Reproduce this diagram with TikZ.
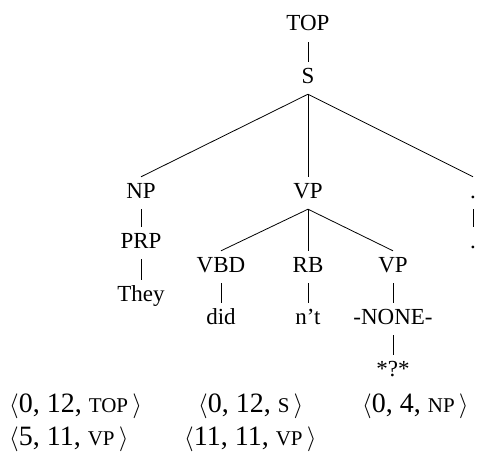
\documentclass[tikz,border=0pt]{standalone}
\usepackage{fontspec}
\setmainfont{Liberation Serif}
\usepackage{tikz}

\newcommand{\spancat}[1]{{\fontsize{21}{24}\selectfont #1}}

\begin{document}
\begin{tikzpicture}[x=1pt,y=-1pt,
        tag/.style={font=\fontsize{23}{27}\selectfont,inner xsep=1pt,inner ysep=6pt,
            text height=15pt,text depth=5pt,anchor=base},
        span/.style={font=\fontsize{28}{33}\selectfont,inner sep=0pt,anchor=base west},
        branch/.style={line width=0.8pt}]
        \useasboundingbox (0,0) rectangle (479,452);

        % Tree nodes
        \node [tag] (top) at (308,31) {TOP};
        \node [tag] (s) at (308,83) {S};
        \node [tag] (np) at (141,198) {NP};
        \node [tag] (vp) at (308,198) {VP};
        \node [tag] (punct) at (473,198) {.};
        \node [tag] (prp) at (141,248) {PRP};
        \node [tag] (punctword) at (473,248) {.};
        \node [tag] (they) at (141,301) {They};
        \node [tag] (vbd) at (221,272) {VBD};
        \node [tag] (rb) at (308,272) {RB};
        \node [tag] (vpnone) at (393,272) {VP};
        \node [tag] (did) at (221,324) {did};
        \node [tag] (nt) at (308,324) {n't};
        \node [tag] (none) at (393,324) {-NONE-};
        \node [tag] (trace) at (393,376) {*?*};

        % Branches
        \draw [branch] (top.south) -- (s.north);
        \draw [branch] (s.south) -- (np.north);
        \draw [branch] (s.south) -- (vp.north);
        \draw [branch] (s.south) -- (punct.north);
        \draw [branch] (np.south) -- (prp.north);
        \draw [branch] (prp.south) -- (they.north);
        \draw [branch] (punct.south) -- (punctword.north);
        \draw [branch] (vp.south) -- (vbd.north);
        \draw [branch] (vp.south) -- (rb.north);
        \draw [branch] (vp.south) -- (vpnone.north);
        \draw [branch] (vbd.south) -- (did.north);
        \draw [branch] (rb.south) -- (nt.north);
        \draw [branch] (vpnone.south) -- (none.north);
        \draw [branch] (none.south) -- (trace.north);

        % Spans
        \node [span] (spantop) at (9,412) {$\langle$0, 12, \spancat{TOP}$\,\rangle$};
        \node [span] (spans) at (198,412) {$\langle$0, 12, \spancat{S}$\,\rangle$};
        \node [span] (spannp) at (362,412) {$\langle$0, 4, \spancat{NP}$\,\rangle$};
        \node [span] (spanvp) at (9,445) {$\langle$5, 11, \spancat{VP}$\,\rangle$};
        \node [span] (spanvpnone) at (184,445) {$\langle$11, 11, \spancat{VP}$\,\rangle$};
\end{tikzpicture}
\end{document}
